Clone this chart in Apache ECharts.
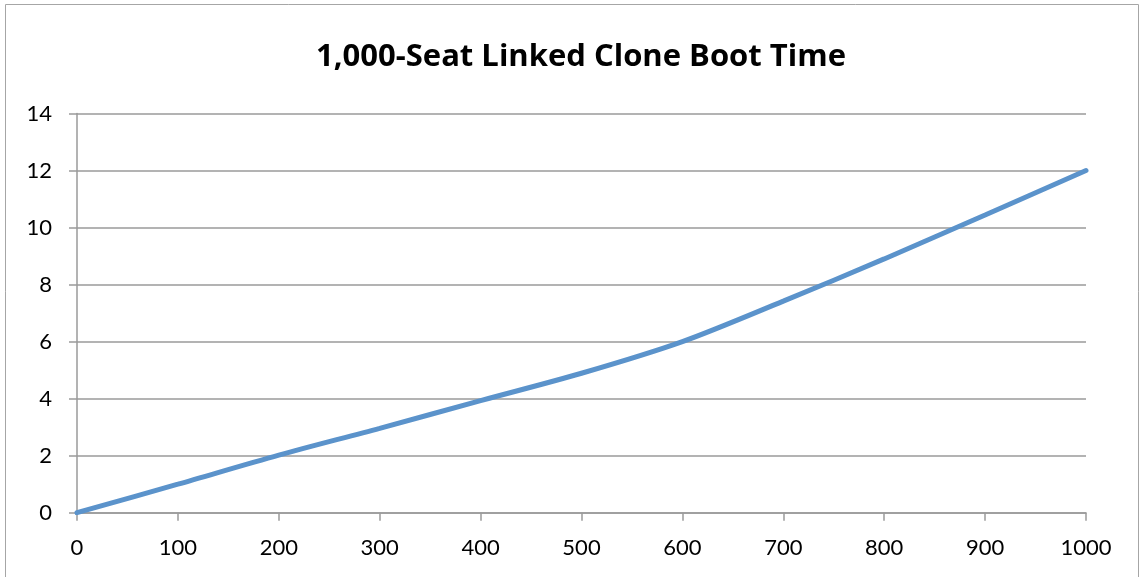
<!DOCTYPE html>
<html>
<head>
<meta charset="utf-8">
<title>1,000-Seat Linked Clone Boot Time</title>
<script src="https://cdn.jsdelivr.net/npm/echarts@6/dist/echarts.min.js"></script>
<style>
  html, body { margin: 0; padding: 0; background: #ffffff; }
  #chart { width: 1141px; height: 577px; }
</style>
</head>
<body>
<div id="chart"></div>
<script>
// Number of desktops booted (x) and elapsed time (y)
const seats = [0, 100, 200, 300, 400, 500, 600, 700, 800, 900, 1000];
const bootTime = [0, 1.0, 2.02, 2.96, 3.93, 4.89, 6.0, 7.42, 8.9, 10.44, 12.0];

const chartTitle = '1,000-Seat Linked Clone Boot Time';

const gridColor = '#9a9a9a';
const labelFont = 'Lato, "Open Sans", sans-serif';
const titleFont = '"Open Sans", Lato, sans-serif';

const chart = echarts.init(document.getElementById('chart'));
chart.setOption({
  animation: false,
  backgroundColor: '#ffffff',
  title: {
    text: chartTitle,
    left: 576,
    textAlign: 'center',
    top: 37,
    textStyle: { fontFamily: titleFont, fontSize: 31, fontWeight: 'bold', color: '#000' }
  },
  graphic: [{
    type: 'rect',
    shape: { x: 5.5, y: 4.5, width: 1133, height: 600 },
    style: { fill: 'none', stroke: '#a6a6a6', lineWidth: 1 },
    silent: true
  }],
  grid: { left: 77, right: 55, top: 113.5, bottom: 64.3 },
  xAxis: {
    type: 'value',
    min: 0, max: 1000, interval: 100,
    axisLine: { show: true, lineStyle: { color: gridColor, width: 1.5 } },
    axisTick: { show: true, length: 8, lineStyle: { color: gridColor, width: 1.5 } },
    splitLine: { show: false },
    axisLabel: {
      margin: 24, fontFamily: labelFont, fontSize: 22, color: '#000',
      formatter: (v) => String(v)
    }
  },
  yAxis: {
    type: 'value',
    min: 0, max: 14, interval: 2,
    axisLine: { show: true, lineStyle: { color: gridColor, width: 1.5 } },
    axisTick: { show: true, length: 8, lineStyle: { color: gridColor, width: 1.5 } },
    splitLine: { show: true, lineStyle: { color: gridColor, width: 1.5 } },
    axisLabel: { margin: 25, fontFamily: labelFont, fontSize: 22, color: '#000' }
  },
  series: [{
    type: 'line',
    data: seats.map((s, i) => [s, bootTime[i]]),
    smooth: 0.3,
    showSymbol: false,
    lineStyle: { color: '#5b93cb', width: 5, cap: 'round' }
  }]
});
</script>
</body>
</html>
